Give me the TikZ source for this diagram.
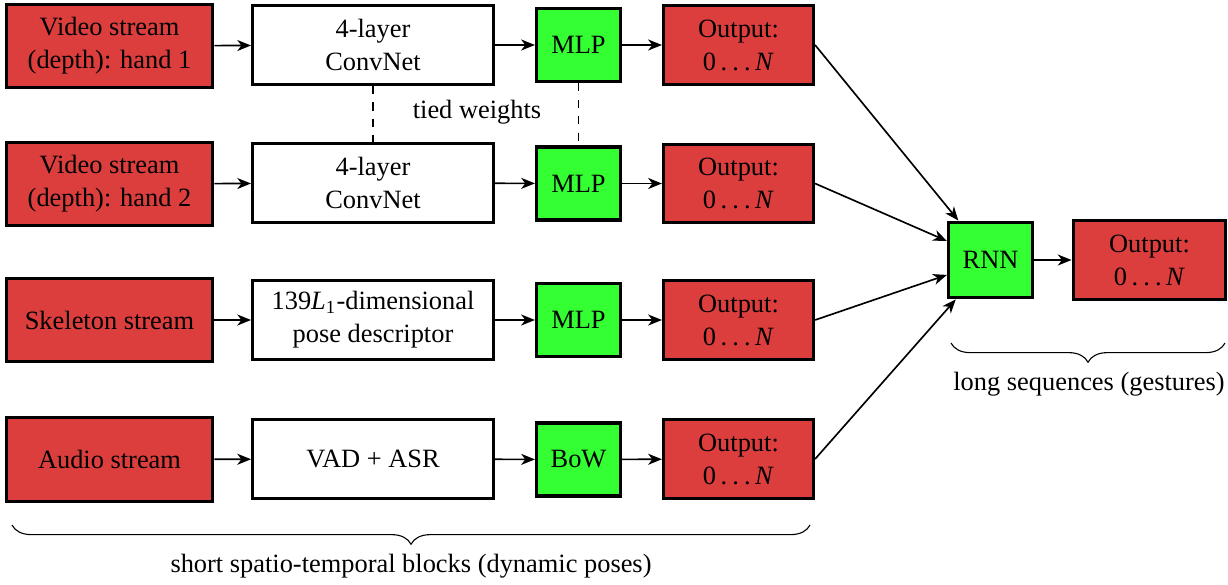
\documentclass[tikz,border=0pt]{standalone}
\usepackage{fontspec}
\setmainfont{Liberation Serif}
\usetikzlibrary{arrows.meta,decorations.pathreplacing}
\definecolor{boxred}{RGB}{220,62,62}
\definecolor{boxgreen}{RGB}{51,255,51}
\newcommand\zeroN{0\kern1.6pt.\kern1.9pt.\kern1.9pt.\kern1.6pt\textit{N}}
\begin{document}
\begin{tikzpicture}[x=0.3636pt,y=-0.3636pt,
  font=\fontsize{9.6}{12}\selectfont,
  box/.style={draw=black,very thick,align=center,inner sep=0pt,anchor=center},
  inbox/.style={box,fill=boxred,minimum width=75pt,minimum height=30.3pt},
  procbox/.style={box,fill=white,minimum width=87.5pt,minimum height=28.6pt},
  netbox/.style={box,fill=boxgreen,minimum width=30.5pt,minimum height=26.5pt},
  outbox/.style={box,fill=boxred,minimum width=54.5pt,minimum height=28.6pt},
  conn/.style={-{Stealth[length=5pt,width=4pt,inset=1.5pt]},semithick},
  tie/.style={dashed,semithick},
  brc/.style={decorate,decoration={brace,amplitude=7pt}},
]
\useasboundingbox (0,0) rectangle (1228,584);
% row 1
\node[inbox] (in1) at (109.5,46) {Video stream\\(depth): hand 1};
\node[procbox] (p1) at (373,45) {4-layer\\ConvNet};
\node[netbox] (m1) at (578.5,45) {MLP};
\node[outbox] (o1) at (738.5,45) {Output:\\\zeroN};
% row 2
\node[inbox] (in2) at (109.5,184) {Video stream\\(depth): hand 2};
\node[procbox] (p2) at (373,183) {4-layer\\ConvNet};
\node[netbox] (m2) at (578.5,183.5) {MLP};
\node[outbox] (o2) at (738.5,183.5) {Output:\\\zeroN};
% row 3
\node[inbox] (in3) at (109.5,320) {Skeleton stream};
\node[procbox] (p3) at (373,320) {139\textit{L}\textsubscript{1}-dimensional\\pose descriptor};
\node[netbox] (m3) at (578.5,320) {MLP};
\node[outbox] (o3) at (738.5,320) {Output:\\\zeroN};
% row 4
\node[inbox] (in4) at (109.5,459.5) {Audio stream};
\node[procbox] (p4) at (373,459) {VAD + ASR};
\node[netbox] (m4) at (578.5,459.5) {BoW};
\node[outbox] (o4) at (738.5,459) {Output:\\\zeroN};
% RNN
\node[netbox,minimum height=27.5pt] (rnn) at (990.5,260) {RNN};
\node[outbox,minimum width=55.5pt] (of) at (1149.5,260) {Output:\\\zeroN};
% connectors
\foreach \i in {1,2,3,4}{
  \draw[conn] (in\i) -- (p\i);
  \draw[conn] (p\i) -- (m\i);
  \draw[conn] (m\i) -- (o\i);
  \draw[conn] (o\i.east) -- (rnn);
}
\draw[conn] (rnn) -- (of);
% tied weights
\draw[tie] (p1) -- (p2);
\draw[tie] (m1) -- (m2);
\node (tw) at (477,112) {tied weights};
% braces
\coordinate (b1r) at (810,525);
\coordinate (b1l) at (12,525);
\draw[brc] (b1r) -- (b1l);
\node (t1) at (411,566) {short spatio-temporal blocks (dynamic poses)};
\coordinate (b2r) at (1225,343);
\coordinate (b2l) at (951,343);
\draw[brc] (b2r) -- (b2l);
\node (t2) at (1089,384) {long sequences (gestures)};
\end{tikzpicture}
\end{document}
